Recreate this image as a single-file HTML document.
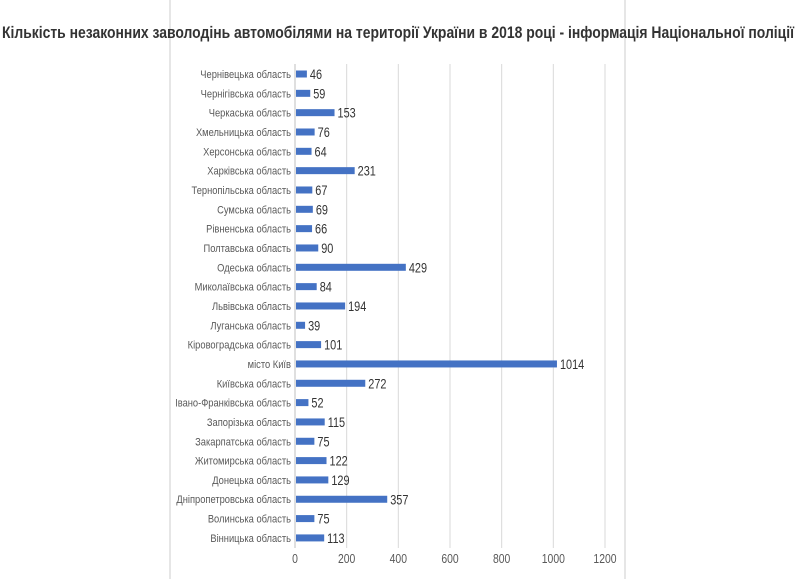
<!DOCTYPE html>
<html><head><meta charset="utf-8"><style>
html,body{margin:0;padding:0;background:#fff;}
svg{display:block;font-family:"Liberation Sans",sans-serif;}
</style></head><body>
<svg id="chart" width="800" height="579">
<line x1="170" y1="0" x2="170" y2="579" stroke="#ccc" stroke-width="1"/>
<line x1="625" y1="0" x2="625" y2="579" stroke="#ccc" stroke-width="1"/>
<text x="398" y="38" text-anchor="middle" font-size="17" font-weight="bold" fill="#333" textLength="792" lengthAdjust="spacingAndGlyphs">Кількість незаконних заволодінь автомобілями на території України в 2018 році  - інформація Національної поліції</text>
<g id="grid"></g><g id="bars"></g>
</svg>
<script>
const categories=["Чернівецька область","Чернігівська область","Черкаська область","Хмельницька область","Херсонська область","Харківська область","Тернопільська область","Сумська область","Рівненська область","Полтавська область","Одеська область","Миколаївська область","Львівська область","Луганська область","Кіровоградська область","місто Київ","Київська область","Івано-Франківська область","Запорізька область","Закарпатська область","Житомирська область","Донецька область","Дніпропетровська область","Волинська область","Вінницька область"];
const values=[46,59,153,76,64,231,67,69,66,90,429,84,194,39,101,1014,272,52,115,75,122,129,357,75,113];
const ticks=[0,200,400,600,800,1000,1200];
const NS="http://www.w3.org/2000/svg";
const x0=295,x1=605,maxV=1200,yTop=74,yStep=19.33;
function xs(v){return x0+(x1-x0)*v/maxV;}
function ys(i){return yTop+i*yStep;}
function mk(t,a,p){const e=document.createElementNS(NS,t);for(const k in a)e.setAttribute(k,a[k]);p.appendChild(e);return e;}
const grid=document.getElementById('grid'),bars=document.getElementById('bars');
ticks.forEach(t=>{
 const l=mk('line',{x1:xs(t),x2:xs(t),y1:64,y2:548,stroke:t===0?'#bfbfbf':'#d9d9d9','stroke-width':1},grid);
 
 
 const tx=mk('text',{x:xs(t),y:563,'text-anchor':'middle','font-size':13,fill:'#595959',transform:`translate(${xs(t)},0) scale(0.8,1) translate(${-xs(t)},0)`},grid);
 tx.textContent=t;
 
 
});
categories.forEach((c,i)=>{
 const y=ys(i);
 const r=mk('rect',{x:x0+1,y:y-3.5,width:Math.max(0,xs(values[i])-x0-1),height:7,fill:'#4472c4'},bars);
 
 
 const lb=mk('text',{x:291,y:y+4,'text-anchor':'end','font-size':11,fill:'#595959',transform:`translate(291,0) scale(0.85,1) translate(-291,0)`},bars);
 lb.textContent=c;
 
 
 const vx=xs(values[i])+3;
 const vl=mk('text',{x:vx,y:y+5,'font-size':14,fill:'#333',transform:`translate(${vx},0) scale(0.78,1) translate(${-vx},0)`},bars);
 vl.textContent=values[i];
 
 
});
</script>
</body></html>
